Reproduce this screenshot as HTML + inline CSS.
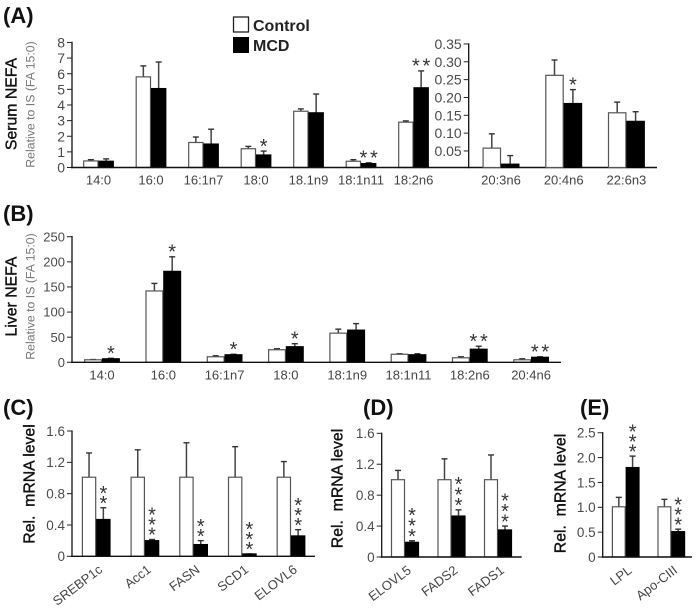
<!DOCTYPE html>
<html>
<head>
<meta charset="utf-8">
<title>NEFA and mRNA bar charts</title>
<style>
html,body{margin:0;padding:0;background:#fff;width:698px;height:609px;overflow:hidden}
svg{display:block;font-family:"Liberation Sans",sans-serif}
.tick{fill:#4a4a4a}
.cat{fill:#444;font-size:13px}
.title{font-size:15.8px;fill:#111;stroke:#111;stroke-width:0.4px}
.sub{font-size:12.3px;fill:#777}
.panel{font-weight:bold;font-size:22px;fill:#111}
</style>
</head>
<body>
<svg id="figure" xmlns="http://www.w3.org/2000/svg" width="698" height="609" viewBox="0 0 698 609">
  <rect x="0" y="0" width="698" height="609" fill="#fff"/>
  <text class="panel" x="3" y="23">(A)</text>
  <text class="panel" x="3" y="221">(B)</text>
  <text class="panel" x="3" y="415">(C)</text>
  <text class="panel" x="363" y="415">(D)</text>
  <text class="panel" x="580" y="415">(E)</text>

  <g>
    <rect x="233.5" y="17" width="15" height="15" fill="#fff" stroke="#222" stroke-width="1.3"/>
    <rect x="233" y="37" width="16" height="16" fill="#000"/>
    <text x="253" y="31" font-size="16" font-weight="bold" fill="#222">Control</text>
    <text x="253" y="51" font-size="16" font-weight="bold" fill="#222">MCD</text>
  </g>

  <text class="title" transform="translate(16.5,104) rotate(-90)" text-anchor="middle">Serum NEFA</text>
  <text class="sub" transform="translate(34.5,104.5) rotate(-90)" text-anchor="middle">Relative to IS (FA 15:0)</text>
  <text class="title" transform="translate(16.5,296.5) rotate(-90)" text-anchor="middle">Liver NEFA</text>
  <text class="sub" transform="translate(34.5,296.5) rotate(-90)" text-anchor="middle">Relative to IS (FA 15:0)</text>
  <text class="title" transform="translate(34.5,484) rotate(-90)" text-anchor="middle" xml:space="preserve">Rel.  mRNA level</text>
  <text class="title" transform="translate(342.5,488.5) rotate(-90)" text-anchor="middle" xml:space="preserve">Rel.  mRNA level</text>
  <text class="title" transform="translate(565.5,493.5) rotate(-90)" text-anchor="middle" xml:space="preserve">Rel.  mRNA level</text>
</svg>
<script>
// Panel A, long-chain fatty acids
const serumCategories = ['14:0','16:0','16:1n7','18:0','18.1n9','18:1n11','18:2n6'];
const serumControl = [0.42,5.8,1.6,1.2,3.6,0.4,2.9];
const serumMcd = [0.4,5.05,1.5,0.8,3.5,0.25,5.1];
const serumControlErr = [0.08,0.7,0.35,0.15,0.15,0.1,0.08];
const serumMcdErr = [0.15,1.7,0.95,0.25,1.2,0.05,1.08];
const serumStars = [0,0,0,1,0,2,2];
const serumTicks = ['0','1','2','3','4','5','6','7','8'];

// Panel A, minor fatty acids on the right-hand axis
const minorCategories = ['20:3n6','20:4n6','22:6n3'];
const minorControl = [0.058,0.262,0.157];
const minorMcd = [0.013,0.183,0.133];
const minorControlErr = [0.04,0.043,0.03];
const minorMcdErr = [0.024,0.039,0.027];
const minorStars = [0,1,0];
const minorTicks = ['0.05','0.10','0.15','0.20','0.25','0.30','0.35'];

// Panel B
const liverCategories = ['14:0','16:0','16:1n7','18:0','18:1n9','18:1n11','18:2n6','20:4n6'];
const liverControl = [5,142,11,25,58,16,9,5];
const liverMcd = [7,181,15,31,64,15,26,10];
const liverControlErr = [0.5,15,2,2,8,1,2,2];
const liverMcdErr = [1,29,1,6,13,2,6,1];
const liverStars = [1,1,1,1,0,0,2,2];
const liverTicks = ['0','50','100','150','200','250'];

// Panel C
const lipogenicCategories = ['SREBP1c','Acc1','FASN','SCD1','ELOVL6'];
const lipogenicControl = [1.01,1.01,1.01,1.01,1.01];
const lipogenicMcd = [0.47,0.2,0.15,0.03,0.26];
const lipogenicControlErr = [0.31,0.35,0.44,0.39,0.2];
const lipogenicMcdErr = [0.15,0.015,0.05,0,0.08];
const lipogenicStars = [2,3,2,3,3];
const lipogenicTicks = ['0','0.4','0.8','1.2','1.6'];

// Panel D
const desaturaseCategories = ['ELOVL5','FADS2','FADS1'];
const desaturaseControl = [1,1,1];
const desaturaseMcd = [0.19,0.53,0.35];
const desaturaseControlErr = [0.12,0.27,0.32];
const desaturaseMcdErr = [0.02,0.08,0.05];
const desaturaseStars = [3,3,3];
const desaturaseTicks = ['0','0.4','0.8','1.2','1.6'];

// Panel E
const lipolysisCategories = ['LPL','Apo-CIII'];
const lipolysisControl = [1.01,1.01];
const lipolysisMcd = [1.8,0.51];
const lipolysisControlErr = [0.19,0.15];
const lipolysisMcdErr = [0.23,0.05];
const lipolysisStars = [3,3];
const lipolysisTicks = ['0','0.5','1.0','1.5','2.0','2.5'];

const SVG_NS = 'http://www.w3.org/2000/svg';
const figure = document.getElementById('figure');

function make(tag, attrs, parent) {
  const node = document.createElementNS(SVG_NS, tag);
  for (const key in attrs) node.setAttribute(key, attrs[key]);
  parent.appendChild(node);
  return node;
}

function drawPanel(p) {
  const group = make('g', {}, figure);
  
  

  const yScale = v => p.zeroY - v * p.pxPerUnit;
  const xCenter = i => p.firstCenter + i * p.step;

  // bars and error bars
  p.categories.forEach((cat, i) => {
    const cx = xCenter(i);
    const sets = [
      {label: 'control', value: p.control[i], err: p.controlErr[i], x: cx - p.barWidth, fill: '#fff', stroke: '#555'},
      {label: 'mcd', value: p.mcd[i], err: p.mcdErr[i], x: cx, fill: '#000', stroke: '#000'}
    ];
    sets.forEach(s => {
      const barCx = s.x + p.barWidth / 2;
      const topY = yScale(s.value + s.err);
      const valueY = yScale(s.value);

      const errLine = make('line', {x1: barCx, x2: barCx, y1: valueY, y2: topY, stroke: '#444', 'stroke-width': 1.5}, group);
      
      

      const errCap = make('line', {x1: barCx - 3, x2: barCx + 3, y1: topY, y2: topY, stroke: '#333', 'stroke-width': 1.4}, group);
      
      

      const bar = make('rect', {
        x: s.x + 0.5,
        y: valueY,
        width: p.barWidth - 1,
        height: Math.max(0.5, p.baseY - valueY),
        fill: s.fill,
        stroke: s.stroke,
        'stroke-width': 1.2
      }, group);
      
      
    });

    // significance stars, anchored on the MCD bar's error top
    const starCount = p.stars[i];
    const starCx = cx + p.barWidth / 2;
    const mcdTop = yScale(p.mcd[i] + p.mcdErr[i]);
    for (let s = 0; s < starCount; s++) {
      const sx = p.stacked ? starCx : starCx + (s - (starCount - 1) / 2) * 10.5;
      const sy = p.stacked ? mcdTop - 9 - s * p.starGap : mcdTop - 9.5;
      const star = make('text', {x: sx, y: sy + 11.2, 'text-anchor': 'middle', 'font-size': 20, fill: '#333'}, group);
      star.textContent = '*';
      
      
    }

    // category label
    let label;
    if (p.rotate) {
      label = make('text', {
        class: 'cat',
        'text-anchor': 'end',
        'font-size': 13.5,
        transform: 'translate(' + (cx + 7) + ',' + (p.baseY + 15) + ') rotate(-37)'
      }, group);
    } else {
      label = make('text', {class: 'cat', x: cx, y: p.baseY + 17, 'text-anchor': 'middle'}, group);
    }
    label.textContent = cat;
    
    
  });

  // y axis line
  const topTickY = yScale(parseFloat(p.ticks[p.ticks.length - 1]));
  const yAxis = make('line', {x1: p.axisX, x2: p.axisX, y1: topTickY - 0.7, y2: p.baseY + 0.7, stroke: '#111', 'stroke-width': 1.3}, group);
  
  

  // ticks
  p.ticks.forEach(t => {
    const ty = yScale(parseFloat(t));
    const tick = make('line', {x1: p.axisX - 5, x2: p.axisX, y1: ty, y2: ty, stroke: '#222', 'stroke-width': 1}, group);
    
    

    const tickLabel = make('text', {class: 'tick', x: p.axisX - 7, y: ty + p.tickSize * 0.36, 'text-anchor': 'end', 'font-size': p.tickSize}, group);
    tickLabel.textContent = t;
    
    
  });

  // baseline
  if (p.baseEnd) {
    const xAxis = make('line', {x1: p.axisX - 1, x2: p.baseEnd, y1: p.baseY, y2: p.baseY, stroke: '#111', 'stroke-width': 1.4}, group);
    
    
  }
}

drawPanel({name: 'serum-nefa', categories: serumCategories, control: serumControl, mcd: serumMcd, controlErr: serumControlErr, mcdErr: serumMcdErr, stars: serumStars, ticks: serumTicks,
  axisX: 72, zeroY: 167.5, baseY: 167.5, pxPerUnit: 15.63, firstCenter: 98.5, step: 52.5, barWidth: 15.3, baseEnd: 657, tickSize: 14, stacked: false});
drawPanel({name: 'serum-nefa-minor', categories: minorCategories, control: minorControl, mcd: minorMcd, controlErr: minorControlErr, mcdErr: minorMcdErr, stars: minorStars, ticks: minorTicks,
  axisX: 468.7, zeroY: 168.8, baseY: 167.5, pxPerUnit: 356.7, firstCenter: 501, step: 62.7, barWidth: 18.4, baseEnd: 0, tickSize: 14, stacked: false});
drawPanel({name: 'liver-nefa', categories: liverCategories, control: liverControl, mcd: liverMcd, controlErr: liverControlErr, mcdErr: liverMcdErr, stars: liverStars, ticks: liverTicks,
  axisX: 72, zeroY: 362.3, baseY: 362.3, pxPerUnit: 0.5024, firstCenter: 102, step: 61.3, barWidth: 17.8, baseEnd: 561, tickSize: 13, stacked: false});
drawPanel({name: 'lipogenic-mrna', categories: lipogenicCategories, control: lipogenicControl, mcd: lipogenicMcd, controlErr: lipogenicControlErr, mcdErr: lipogenicMcdErr, stars: lipogenicStars, ticks: lipogenicTicks,
  axisX: 72, zeroY: 556.3, baseY: 556.3, pxPerUnit: 78.3, firstCenter: 96.2, step: 48.7, barWidth: 14.3, baseEnd: 315, tickSize: 13.5, stacked: true, starGap: 10, rotate: true});
drawPanel({name: 'desaturase-mrna', categories: desaturaseCategories, control: desaturaseControl, mcd: desaturaseMcd, controlErr: desaturaseControlErr, mcdErr: desaturaseMcdErr, stars: desaturaseStars, ticks: desaturaseTicks,
  axisX: 381.7, zeroY: 557, baseY: 557, pxPerUnit: 77.3, firstCenter: 405, step: 46.5, barWidth: 14, baseEnd: 521.7, tickSize: 13.5, stacked: true, starGap: 10.5, rotate: true});
drawPanel({name: 'lipolysis-mrna', categories: lipolysisCategories, control: lipolysisControl, mcd: lipolysisMcd, controlErr: lipolysisControlErr, mcdErr: lipolysisMcdErr, stars: lipolysisStars, ticks: lipolysisTicks,
  axisX: 602.7, zeroY: 557, baseY: 557, pxPerUnit: 49.7, firstCenter: 625.7, step: 45.6, barWidth: 13.8, baseEnd: 692, tickSize: 13.5, stacked: true, starGap: 10, rotate: true});
</script>
</body>
</html>
